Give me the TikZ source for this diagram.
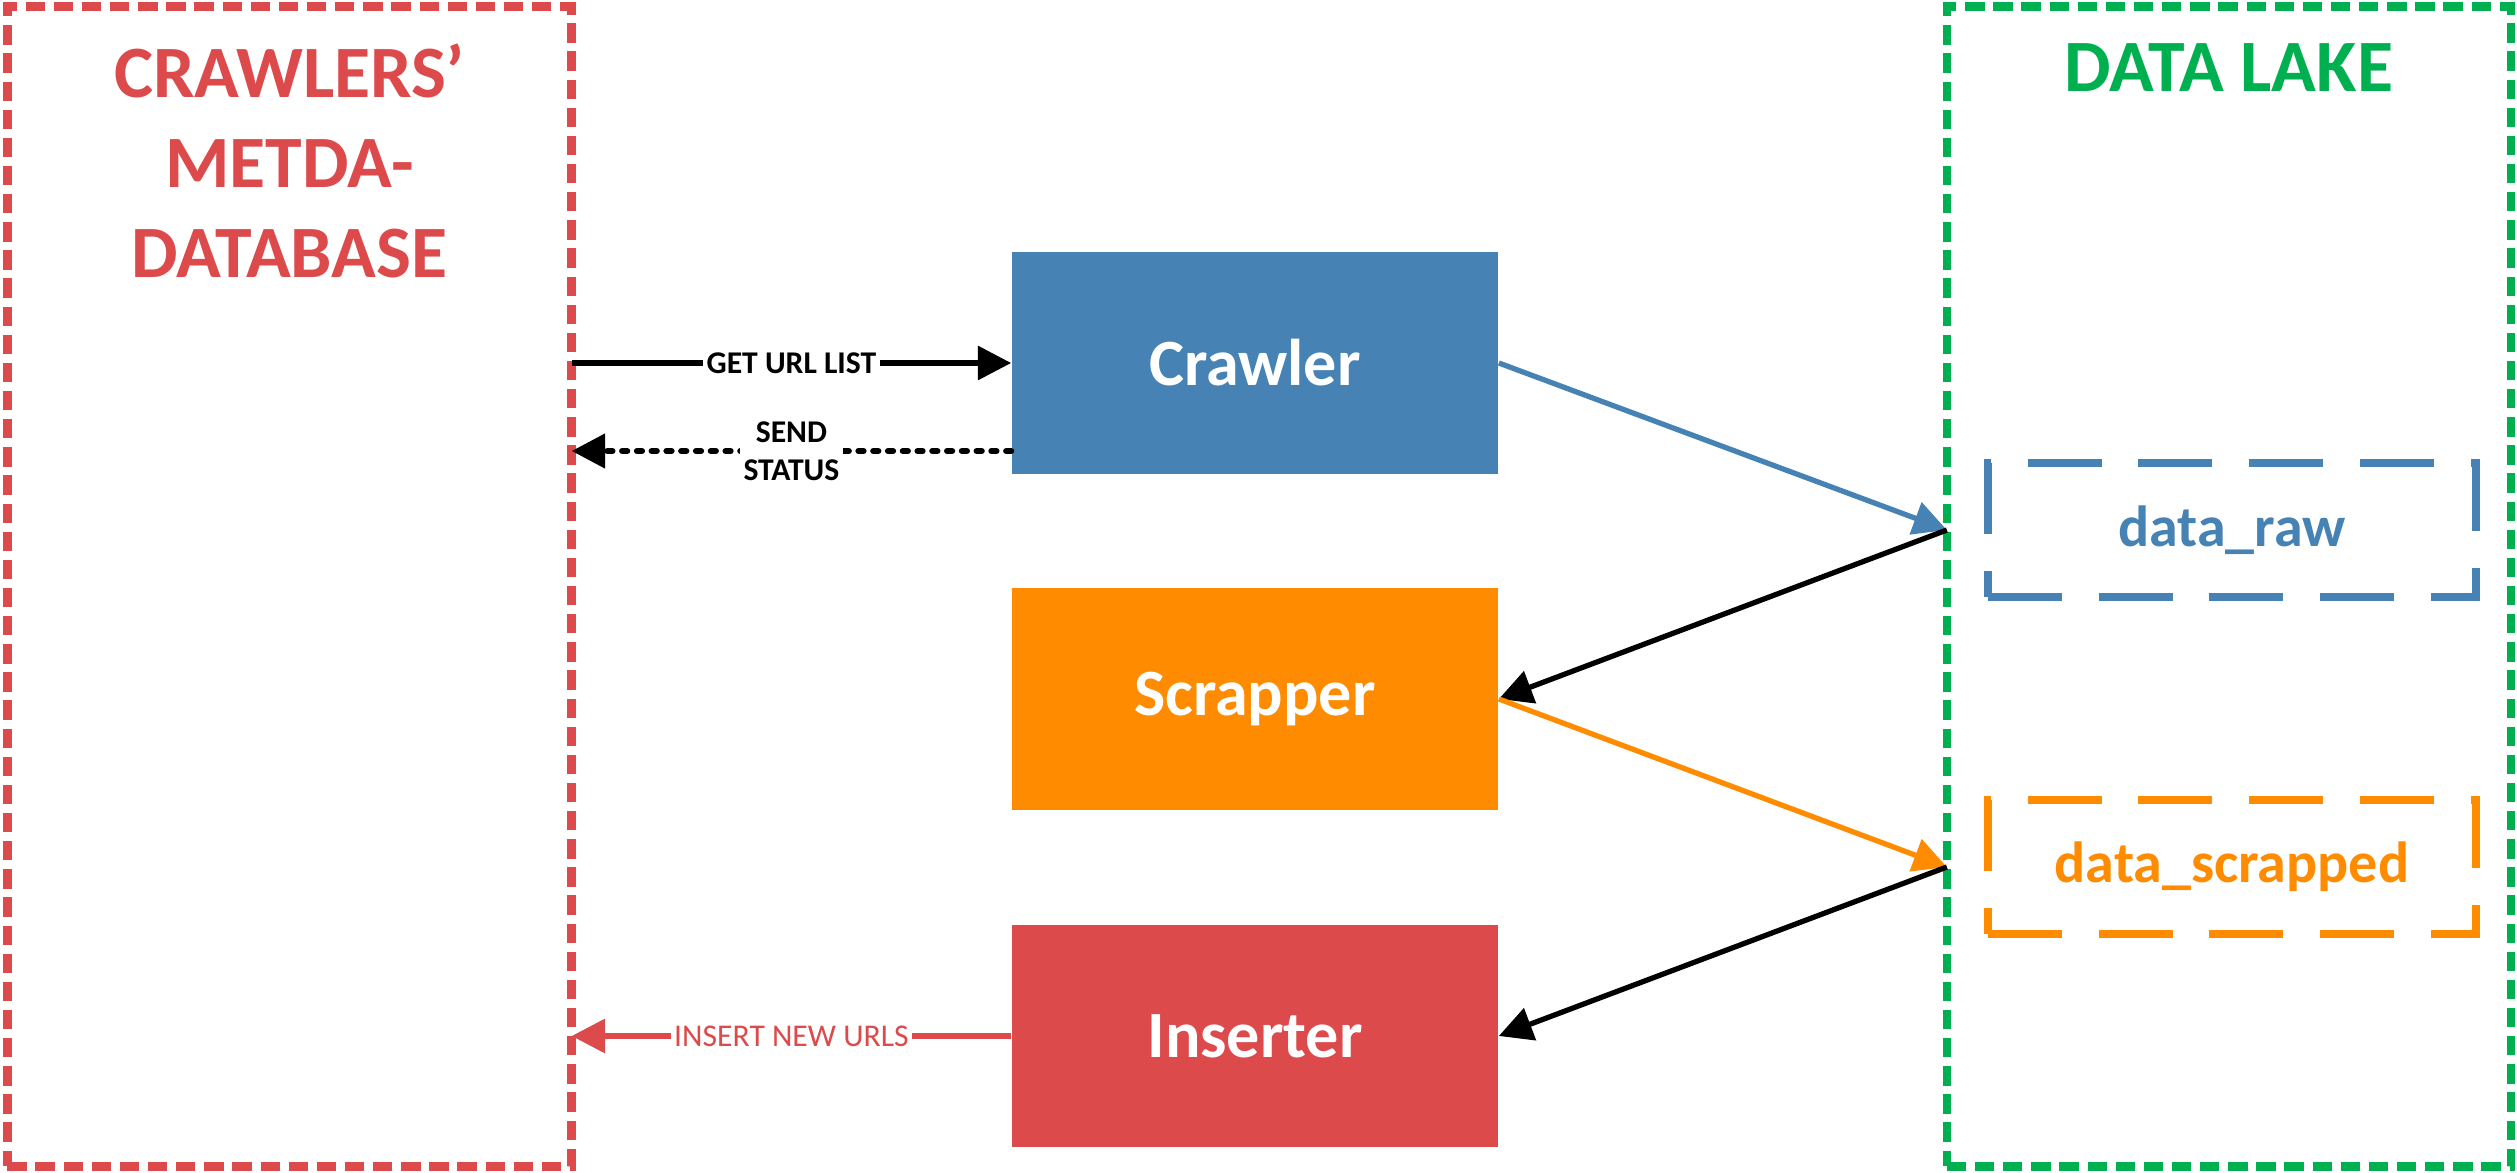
\documentclass[tikz,border=0pt]{standalone}
\usepackage{fontspec}
\setmainfont{Carlito}
\usetikzlibrary{arrows.meta}

\definecolor{dbred}{RGB}{220,74,76}
\definecolor{crawlblue}{RGB}{70,130,180}
\definecolor{scraporange}{RGB}{255,140,0}
\definecolor{lakegreen}{RGB}{0,176,80}

\begin{document}
\begin{tikzpicture}[x=0.01cm, y=-0.01cm,
  zone/.style={draw, line width=2.4pt, dash pattern=on 5.5pt off 2.5pt,
    minimum width=5.64cm, minimum height=11.59cm, inner sep=0pt, outer sep=0pt},
  title/.style={anchor=north, inner sep=0pt, align=center,
    font=\fontsize{21}{25.6}\selectfont\bfseries},
  stage/.style={minimum width=4.86cm, minimum height=2.22cm, inner sep=0pt,
    text=white, font=\fontsize{18.8}{22}\selectfont\bfseries},
  store/.style={draw, line width=2.4pt, dash pattern=on 21pt off 10.5pt,
    minimum width=4.88cm, minimum height=1.34cm, inner sep=0pt,
    font=\fontsize{16.5}{20}\selectfont\bfseries},
  flow/.style={line width=1.5pt, -{Triangle[length=9.5pt, width=9.5pt]}},
  tag/.style={fill=white, inner sep=1pt, align=center,
    font=\fontsize{9}{10.8}\selectfont\bfseries}
]
\useasboundingbox (0,0) rectangle (2517,1173);

\node[zone, draw=dbred] (metadb) at (289.5,586.5) {};
\node[title, text=dbred] (metadb-title) at (289.5,43) {CRAWLERS’\\METDA-\\DATABASE};
\node[zone, draw=lakegreen] (lake) at (2229,586.5) {};
\node[title, text=lakegreen] (lake-title) at (2229,43) {DATA LAKE};

\node[stage, fill=crawlblue] (crawler) at (1255,363) {Crawler};
\node[stage, fill=scraporange] (scrapper) at (1255,699) {Scrapper};
\node[stage, fill=dbred] (inserter) at (1255,1036) {Inserter};

\node[store, draw=crawlblue, text=crawlblue] (raw) at (2232,530) {data\_raw};
\node[store, draw=scraporange, text=scraporange] (scrapped) at (2232,867) {data\_scrapped};

\coordinate (status-y) at (0,451);

\draw[flow] (metadb.east |- crawler) -- (crawler.west)
  node[tag, midway]{GET URL LIST};
\draw[flow, line width=1.8pt, dash pattern=on 1.4pt off 2.8pt, line cap=round]
  (crawler.west |- status-y) -- (metadb.east |- status-y)
  node[tag, midway]{SEND\\STATUS};
\draw[flow, color=crawlblue] (crawler.east) -- (lake.west |- raw);
\draw[flow] (lake.west |- raw) -- (scrapper.east);
\draw[flow, color=scraporange] (scrapper.east) -- (lake.west |- scrapped);
\draw[flow] (lake.west |- scrapped) -- (inserter.east);
\draw[flow, color=dbred] (inserter.west) -- (metadb.east |- inserter)
  node[tag, midway, font=\fontsize{9}{10.8}\selectfont]{INSERT NEW URLS};
\end{tikzpicture}
\end{document}
